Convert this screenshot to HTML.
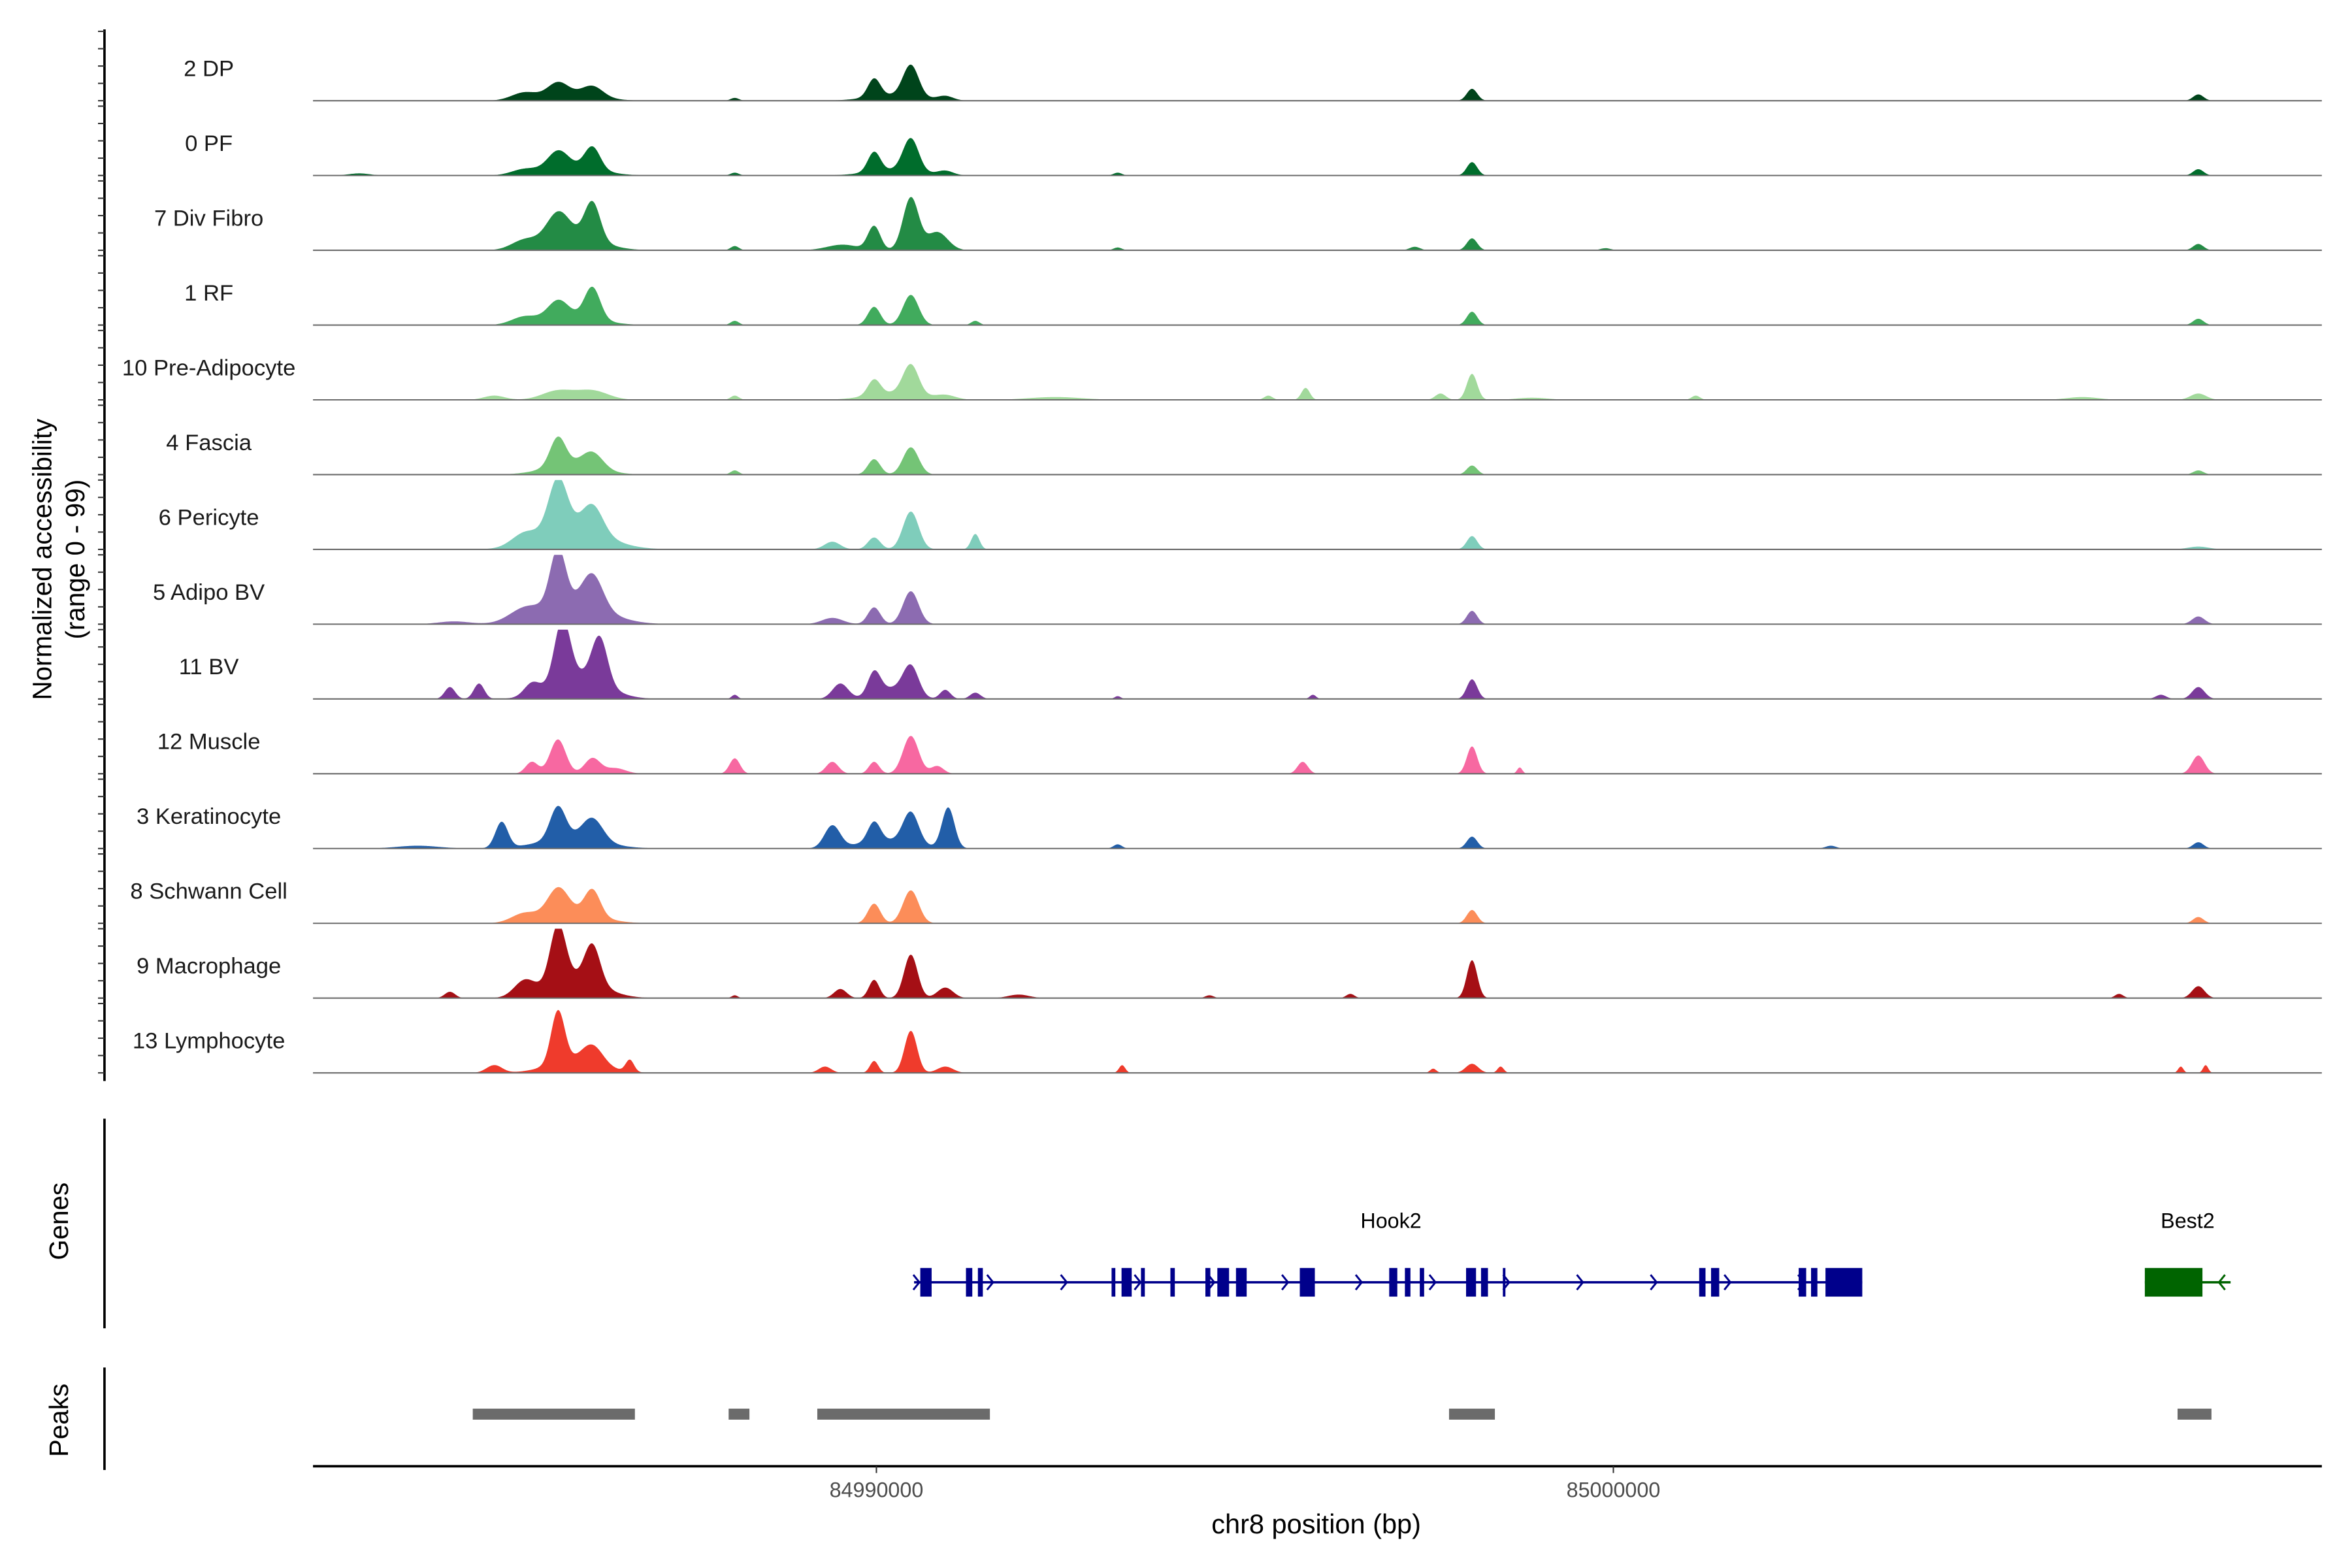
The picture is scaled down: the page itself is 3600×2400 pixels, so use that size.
<!DOCTYPE html>
<html><head><meta charset="utf-8"><style>
html,body{margin:0;padding:0;background:#fff;}
svg{display:block;font-family:"Liberation Sans",sans-serif;}
</style></head><body>
<svg id="chart" width="3600" height="2400" viewBox="0 0 1560 1040" xmlns="http://www.w3.org/2000/svg">
<g id="axes"></g>
<g id="tracks"></g>
<g id="genes"></g>
<g id="peaks"></g>
</svg>
<script>
// positions in kb offset from chr8:84,980,000 ; heights in normalized units (0-99); widths in kb
const trackNames = ["2 DP","0 PF","7 Div Fibro","1 RF","10 Pre-Adipocyte","4 Fascia","6 Pericyte","5 Adipo BV","11 BV","12 Muscle","3 Keratinocyte","8 Schwann Cell","9 Macrophage","13 Lymphocyte"];
const trackColors = ["#00441b","#006d2c","#238b45","#41ab5d","#a1d99b","#74c476","#7fcdbb","#8c6bb1","#7a3a9a","#f768a1","#225ea8","#fc8d59","#a50f15","#ef3b2c"];
const pk0 = [[5.226,11,0.25],[5.679,20,0.2],[6.146,15,0.2],[5.908,8,0.5],[8.078,4,0.08],[9.969,26,0.12],[10.467,45,0.15],[10.238,8,0.5],[10.934,6,0.15],[18.082,17,0.1],[27.937,9,0.1]];
const pk1 = [[5.226,8,0.25],[5.679,26,0.2],[6.146,32,0.15],[5.908,12,0.5],[8.078,4,0.08],[9.969,28,0.12],[10.467,47,0.15],[10.238,8,0.5],[10.934,6,0.15],[13.274,4,0.08],[18.082,19,0.1],[27.937,9,0.1],[2.982,3,0.2]];
const pk2 = [[5.226,13,0.25],[5.679,39,0.22],[6.146,54,0.15],[5.908,20,0.5],[8.078,6,0.08],[9.969,34,0.12],[10.467,75,0.15],[10.825,26,0.2],[9.541,8,0.3],[18.082,17,0.1],[17.306,5,0.1],[27.937,9,0.1],[19.894,3,0.1],[13.274,4,0.08]];
const pk3 = [[5.226,11,0.25],[5.679,26,0.2],[6.146,45,0.15],[5.908,12,0.5],[8.078,6,0.08],[9.969,26,0.12],[10.467,43,0.15],[11.342,6,0.08],[18.082,19,0.1],[27.937,9,0.1]];
const pk4 = [[5.679,13,0.3],[6.146,13,0.3],[4.815,6,0.2],[8.078,6,0.08],[9.969,22,0.12],[10.467,43,0.15],[10.238,10,0.5],[10.934,6,0.2],[15.824,17,0.08],[15.318,6,0.08],[17.654,9,0.1],[18.082,37,0.1],[21.118,6,0.08],[27.937,9,0.15],[26.364,4,0.3],[12.428,4,0.5],[18.898,3,0.3]];
const pk5 = [[5.679,41,0.15],[6.146,22,0.2],[5.858,15,0.5],[8.078,6,0.08],[9.969,22,0.12],[10.467,39,0.15],[18.082,13,0.1],[27.937,6,0.1]];
const pk6 = [[5.679,77,0.18],[6.146,39,0.2],[5.226,17,0.25],[5.908,30,0.6],[9.402,11,0.15],[9.969,17,0.12],[10.467,54,0.15],[11.342,22,0.08],[18.082,19,0.1],[27.937,4,0.2]];
const pk7 = [[5.679,82,0.15],[6.146,47,0.2],[5.226,17,0.3],[5.908,30,0.6],[9.402,9,0.2],[9.969,24,0.12],[10.467,47,0.15],[18.082,19,0.1],[27.937,11,0.12],[4.268,4,0.3]];
const pk8 = [[4.213,17,0.1],[4.608,22,0.1],[5.326,17,0.15],[5.738,86,0.15],[6.245,65,0.15],[5.957,35,0.5],[8.078,6,0.06],[9.511,22,0.15],[9.969,32,0.12],[10.467,43,0.15],[10.188,15,0.3],[10.934,13,0.1],[11.342,9,0.1],[15.923,6,0.06],[18.082,28,0.1],[27.430,6,0.1],[27.937,17,0.12],[13.274,4,0.06]];
const pk9 = [[5.679,49,0.15],[5.326,17,0.12],[6.146,22,0.15],[6.455,8,0.2],[8.078,22,0.1],[9.402,17,0.12],[9.969,17,0.1],[10.467,54,0.15],[10.825,11,0.12],[15.784,17,0.1],[18.082,39,0.1],[18.729,9,0.05],[27.937,26,0.12]];
const pk10 = [[4.915,37,0.12],[5.679,47,0.15],[6.146,32,0.2],[5.858,15,0.6],[9.402,32,0.15],[9.969,28,0.12],[10.467,45,0.15],[10.974,58,0.12],[10.138,12,0.5],[18.082,17,0.1],[13.274,6,0.08],[27.937,9,0.1],[22.950,4,0.1],[3.777,4,0.4]];
const pk11 = [[5.226,13,0.25],[5.679,39,0.2],[6.146,37,0.15],[5.908,15,0.5],[9.969,28,0.12],[10.467,47,0.15],[18.082,19,0.1],[27.937,9,0.1]];
const pk12 = [[4.213,9,0.1],[5.226,22,0.2],[5.679,82,0.15],[6.146,54,0.15],[5.908,30,0.5],[8.078,4,0.06],[9.511,13,0.12],[9.969,26,0.1],[10.467,62,0.13],[10.934,15,0.15],[16.431,6,0.08],[18.082,54,0.1],[26.862,6,0.08],[27.937,17,0.12],[11.930,5,0.2],[14.519,4,0.08]];
const pk13 = [[4.815,11,0.15],[5.679,75,0.13],[6.146,26,0.2],[5.908,18,0.5],[6.654,17,0.08],[9.302,9,0.12],[9.969,17,0.08],[10.467,60,0.12],[10.934,9,0.15],[13.334,11,0.06],[17.555,6,0.06],[18.082,13,0.12],[18.470,9,0.06],[27.699,9,0.05],[28.036,11,0.05]];
const trackPeaks = [pk0,pk1,pk2,pk3,pk4,pk5,pk6,pk7,pk8,pk9,pk10,pk11,pk12,pk13];
const xTicks = [10, 20];
const xTickLabels = ["84990000","85000000"];
const hookExons = [[10.595,10.749],[11.215,11.301],[11.377,11.444],[13.191,13.242],[13.326,13.464],[13.590,13.642],[13.989,14.049],[14.464,14.531],[14.626,14.785],[14.879,15.024],[15.745,15.949],[16.958,17.068],[17.171,17.246],[17.373,17.432],[18.001,18.136],[18.204,18.298],[18.500,18.535],[21.164,21.250],[21.325,21.436],[22.514,22.616],[22.682,22.768],[22.878,23.377]];
const hookSpan = [10.511, 23.377];
const best2Exons = [[27.211,27.993]];
const best2Span = [27.211, 28.375];
const peakRegions = [[4.523,6.723],[7.995,8.277],[9.198,11.540],[17.770,18.392],[27.655,28.115]];

const NS = "http://www.w3.org/2000/svg";
const X0 = 207.6, X1 = 1540;
const KB0 = 2.355, KB1 = 29.613;
function xs(kb){ return X0 + (kb - KB0) / (KB1 - KB0) * (X1 - X0); }
function xinv(px){ return KB0 + (px - X0) / (X1 - X0) * (KB1 - KB0); }
const B0 = 66.8, DY = 49.6, TH = 46;
function ys(v, i){ return B0 + i*DY - Math.min(v,99) / 99 * TH; }
function mk(tag, attrs, parent){ const e = document.createElementNS(NS, tag); for (const k in attrs) e.setAttribute(k, attrs[k]); parent.appendChild(e); return e; }

const axes = document.getElementById('axes');
const tracks = document.getElementById('tracks');
const genes = document.getElementById('genes');
const peaks = document.getElementById('peaks');

let l = mk('line', {x1:69.3,y1:19.5,x2:69.3,y2:717,stroke:'#000','stroke-width':1.6}, axes);


for (let i = 0; i < trackNames.length; i++) {
  for (let k = 0; k <= 4; k++) {
    const y = B0 + i*DY - TH + k*TH/4;
    const t = mk('line', {x1:65,y1:y,x2:69.3,y2:y,stroke:'#333','stroke-width':0.9}, axes);
    
    
  }
}
let yt = mk('text', {x:0,y:0,'font-size':17.5,'text-anchor':'middle',fill:'#000',transform:'translate(34,371) rotate(-90)'}, axes);


yt.textContent = 'Normalized accessibility';
let yt2 = mk('text', {x:0,y:0,'font-size':17.5,'text-anchor':'middle',fill:'#000',transform:'translate(56,371) rotate(-90)'}, axes);


yt2.textContent = '(range 0 - 99)';

for (let i = 0; i < trackNames.length; i++) {
  const g = mk('g', {}, tracks);
  
  
  const base = B0 + i*DY;
  const pts = [];
  for (let px = X0; px <= X1; px += 0.5) {
    const kb = xinv(px);
    let v = 0;
    for (const p of trackPeaks[i]) { const d = (kb - p[0]) / p[2]; v += p[1] * Math.exp(-d*d); }
    pts.push(px.toFixed(1) + ',' + ys(v, i).toFixed(2));
  }
  const a = mk('path', {d:'M' + X0 + ',' + base + ' L' + pts.join(' L') + ' L' + X1 + ',' + base + ' Z', fill:trackColors[i], stroke:'none'}, g);
  
  
  const bl = mk('line', {x1:X0,y1:base,x2:X1,y2:base,stroke:'#6b6b6b','stroke-width':0.9}, g);
  
  
  const lab = mk('text', {x:138.5,y:base-16.3,'font-size':15,'text-anchor':'middle',fill:'#1a1a1a'}, g);
  
  
  lab.textContent = trackNames[i];
}

let ga = mk('line', {x1:69.3,y1:742,x2:69.3,y2:881,stroke:'#000','stroke-width':1.6}, genes);


let gt = mk('text', {x:0,y:0,'font-size':17.5,'text-anchor':'middle',fill:'#000',transform:'translate(45,810) rotate(-90)'}, genes);


gt.textContent = 'Genes';
const GY = 850.5;
function drawGene(name, span, exons, color, dir, labelX) {
  const g = mk('g', {}, genes);
  
  
  const ln = mk('line', {x1:xs(span[0]),y1:GY,x2:xs(span[1]),y2:GY,stroke:color,'stroke-width':1.6}, g);
  
  
  for (const e of exons) {
    const r = mk('rect', {x:xs(e[0]),y:841,width:Math.max(xs(e[1])-xs(e[0]),1),height:19,fill:color}, g);
    
    
  }
  const arrows = dir > 0 ? (function(){ const a=[]; for (let k=span[0]; k<span[1]; k+=1.0004) a.push(k); return a; })() : [span[1]-0.117];
  for (const k of arrows) {
    const x = xs(k) + (dir>0?1.5:0);
    const ar = mk('polyline', {points:(x-2*dir)+','+(GY-5)+' '+(x+2*dir)+','+GY+' '+(x-2*dir)+','+(GY+5),fill:'none',stroke:color,'stroke-width':1.3}, g);
    
    
  }
  const t = mk('text', {x:labelX,y:814.5,'font-size':14,'text-anchor':'middle',fill:'#000'}, g);
  
  
  t.textContent = name;
}
drawGene('Hook2', hookSpan, hookExons, '#00008b', 1, 922.6);
drawGene('Best2', best2Span, best2Exons, '#006400', -1, 1451);

let pa = mk('line', {x1:69.3,y1:907,x2:69.3,y2:975,stroke:'#000','stroke-width':1.6}, peaks);


let pt = mk('text', {x:0,y:0,'font-size':17.5,'text-anchor':'middle',fill:'#000',transform:'translate(45,942) rotate(-90)'}, peaks);


pt.textContent = 'Peaks';
for (const p of peakRegions) {
  const r = mk('rect', {x:xs(p[0]),y:934.3,width:xs(p[1])-xs(p[0]),height:7.3,fill:'#6b6b6b'}, peaks);
  
  
}

let xa = mk('line', {x1:X0,y1:972.5,x2:X1,y2:972.5,stroke:'#000','stroke-width':1.6}, axes);


for (let i = 0; i < xTicks.length; i++) {
  const x = xs(xTicks[i]);
  const t = mk('line', {x1:x,y1:972.5,x2:x,y2:977,stroke:'#333','stroke-width':0.9}, axes);
  
  
  const tl = mk('text', {x:x,y:993,'font-size':14,'text-anchor':'middle',fill:'#4d4d4d'}, axes);
  
  
  tl.textContent = xTickLabels[i];
}
let xt = mk('text', {x:873,y:1017,'font-size':18,'text-anchor':'middle',fill:'#000'}, axes);


xt.textContent = 'chr8 position (bp)';
</script>
</body></html>
